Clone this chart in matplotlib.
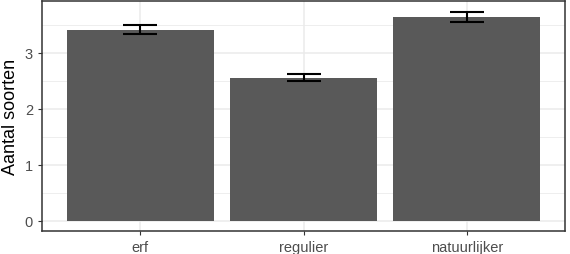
import matplotlib
matplotlib.use("Agg")
import matplotlib.pyplot as plt
import numpy as np

categories = ["erf", "regulier", "natuurlijker"]
means = [3.41, 2.56, 3.65]
lower = [3.34, 2.50, 3.56]
upper = [3.50, 2.63, 3.74]

plt.rcParams['font.family'] = ['Liberation Sans', 'DejaVu Sans']

fig = plt.figure(figsize=(5.7, 2.55), dpi=100)
ax = fig.add_axes([42/570, 23/255, 523/570, 230/255])

x = np.arange(1, len(categories) + 1)
ax.set_axisbelow(True)
ax.bar(x, means, width=0.9, color="#595959", zorder=2)
yerr = [np.array(means) - np.array(lower), np.array(upper) - np.array(means)]
ax.errorbar(x, means, yerr=yerr, fmt="none", ecolor="black", elinewidth=1.5,
            capsize=12.5, capthick=1.5, zorder=3)

ax.set_xlim(0.4, 3.6)
ax.set_ylim(-0.187, 3.93)
ax.set_yticks([0, 1, 2, 3])
ax.set_yticks([0.5, 1.5, 2.5, 3.5], minor=True)
ax.set_xticks(x)
ax.set_xticklabels(categories)
ax.grid(which="major", color="#ebebeb", linewidth=1.1)
ax.grid(which="minor", axis="y", color="#ebebeb", linewidth=0.6)
ax.tick_params(which="minor", length=0)
ax.tick_params(which="major", length=3, color="#333333", labelcolor="#4d4d4d", labelsize=10.5)
for s in ax.spines.values():
    s.set_color("#333333")
    s.set_linewidth(1.1)
ax.set_ylabel("Aantal soorten", fontsize=13, labelpad=4)

fig.savefig("out.png", dpi=100)
